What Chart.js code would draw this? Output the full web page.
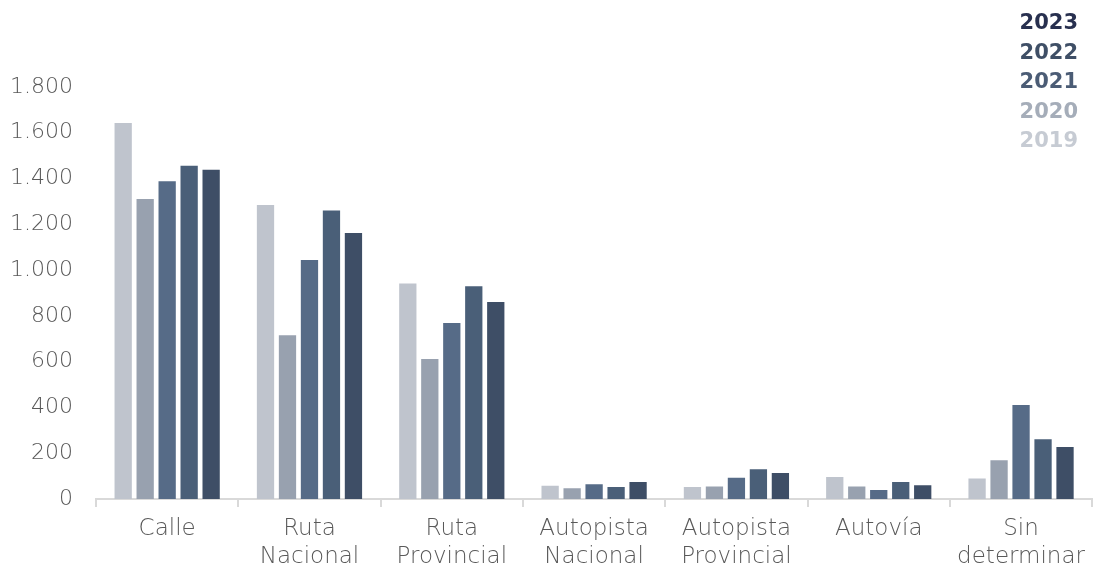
<!DOCTYPE html>
<html>
<head>
<meta charset="utf-8">
<script src="https://cdn.jsdelivr.net/npm/chart.js@4.4.1/dist/chart.umd.min.js"></script>
<style>
  html, body { margin: 0; padding: 0; background: #ffffff; }
  #wrap { position: relative; width: 1093px; height: 570px; }
</style>
</head>
<body>
<div id="wrap"><canvas id="c" width="1093" height="570"></canvas></div>
<script>
const categories = [["Calle"], ["Ruta", "Nacional"], ["Ruta", "Provincial"], ["Autopista", "Nacional"], ["Autopista", "Provincial"], ["Autovía"], ["Sin", "determinar"]];
const years = ["2019", "2020", "2021", "2022", "2023"];
const values2019 = [1643, 1284, 941, 58, 52, 96, 90];
const values2020 = [1311, 715, 612, 47, 55, 55, 169];
const values2021 = [1388, 1044, 769, 64, 93, 39, 411];
const values2022 = [1456, 1260, 930, 52, 130, 74, 261];
const values2023 = [1438, 1162, 861, 74, 114, 60, 227];
const barColors = ["#BFC4CD", "#98A1AF", "#566B87", "#4A5F78", "#3E4E66"];
const legendColors = ["#C6CBD3", "#A5ADB9", "#4B5C75", "#3F4F66", "#28304F"];
const yTickValues = [0, 200, 400, 600, 800, 1000, 1200, 1400, 1600, 1800];
const yTickLabels = ["0", "200", "400", "600", "800", "1.000", "1.200", "1.400", "1.600", "1.800"];

const seriesValues = [values2019, values2020, values2021, values2022, values2023];
const FONT = "'DejaVu Sans', 'Noto Sans', sans-serif";

const legendPlugin = {
  id: 'stackLegend',
  afterDraw(chart) {
    const ctx = chart.ctx;
    ctx.save();
    ctx.font = "bold 21px " + FONT;
    ctx.textAlign = 'right';
    ctx.textBaseline = 'middle';
    const n = chart.data.datasets.length;
    for (let i = n - 1; i >= 0; i--) {
      const row = n - 1 - i;
      ctx.fillStyle = legendColors[i];
      ctx.fillText(chart.data.datasets[i].label, 1078, 24 + row * 29.4);
    }
    ctx.restore();
  }
};

new Chart(document.getElementById('c'), {
  type: 'bar',
  data: {
    labels: categories,
    datasets: years.map((y, i) => ({
      label: y,
      data: seriesValues[i],
      backgroundColor: barColors[i],
      borderWidth: 0,
      categoryPercentage: 0.7725,
      barPercentage: 0.786
    }))
  },
  options: {
    responsive: false,
    animation: false,
    layout: { padding: { top: 87, right: 0, left: 0, bottom: 0 } },
    plugins: {
      legend: { display: false },
      tooltip: { enabled: false }
    },
    scales: {
      x: {
        offset: true,
        grid: {
          offset: true,
          drawOnChartArea: false,
          drawTicks: true,
          tickLength: 8,
          color: '#D9D9D9',
          lineWidth: 2
        },
        border: { display: true, color: '#D9D9D9', width: 2 },
        ticks: {
          autoSkip: false,
          maxRotation: 0,
          minRotation: 0,
          padding: 8,
          color: '#595959',
          font: { family: FONT, size: 23, weight: 300, lineHeight: '28px' }
        },
        afterFit(scale) { scale.height = 71; }
      },
      y: {
        min: 0,
        max: 1800,
        grid: { display: false, drawTicks: false },
        border: { display: false },
        afterBuildTicks(scale) { scale.ticks = yTickValues.map(v => ({ value: v })); },
        ticks: {
          padding: 23,
          color: '#595959',
          font: { family: FONT, size: 22, weight: 300 },
          callback(value) {
            const idx = yTickValues.indexOf(value);
            return idx >= 0 ? yTickLabels[idx] : '';
          }
        },
        afterFit(scale) { scale.width = 96; }
      }
    }
  },
  plugins: [legendPlugin]
});
</script>
</body>
</html>
